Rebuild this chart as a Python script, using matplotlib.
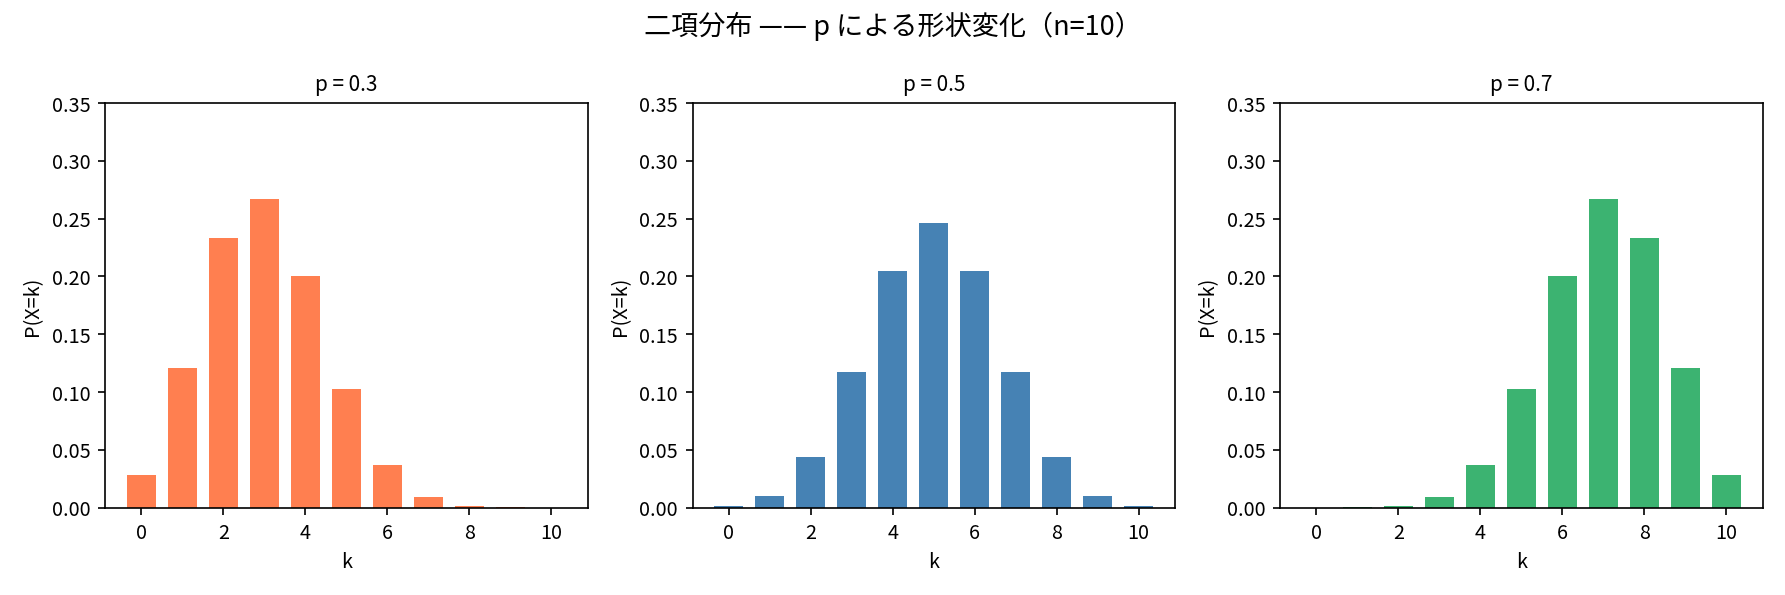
import matplotlib.pyplot as plt

plt.rcParams['font.family'] = ['Noto Sans CJK JP', 'DejaVu Sans']

k = list(range(11))
probs = [0.3, 0.5, 0.7]
colors = ["coral", "steelblue", "mediumseagreen"]

# values
pmf_03 = [0.028, 0.121, 0.233, 0.267, 0.200, 0.103, 0.037, 0.009, 0.001, 0.0001, 0.0]
pmf_05 = [0.001, 0.010, 0.044, 0.117, 0.205, 0.246, 0.205, 0.117, 0.044, 0.010, 0.001]
pmf_07 = [0.0, 0.0001, 0.001, 0.009, 0.037, 0.103, 0.200, 0.267, 0.233, 0.121, 0.028]
series = [pmf_03, pmf_05, pmf_07]

fig, axes = plt.subplots(1, 3, figsize=(11.9, 3.97), dpi=150)
for ax, p, vals, c in zip(axes, probs, series, colors):
    ax.bar(k, vals, width=0.7, color=c)
    ax.set_title(f"p = {p}", fontsize=10)
    ax.set_xlabel("k", fontsize=9.5)
    ax.set_ylabel("P(X=k)", fontsize=9.5)
    ax.tick_params(labelsize=9.5)
    ax.set_ylim(0, 0.35)

fig.suptitle("二項分布 —— p による形状変化（n=10）", fontsize=13)
fig.tight_layout()
fig.savefig("out.png")
